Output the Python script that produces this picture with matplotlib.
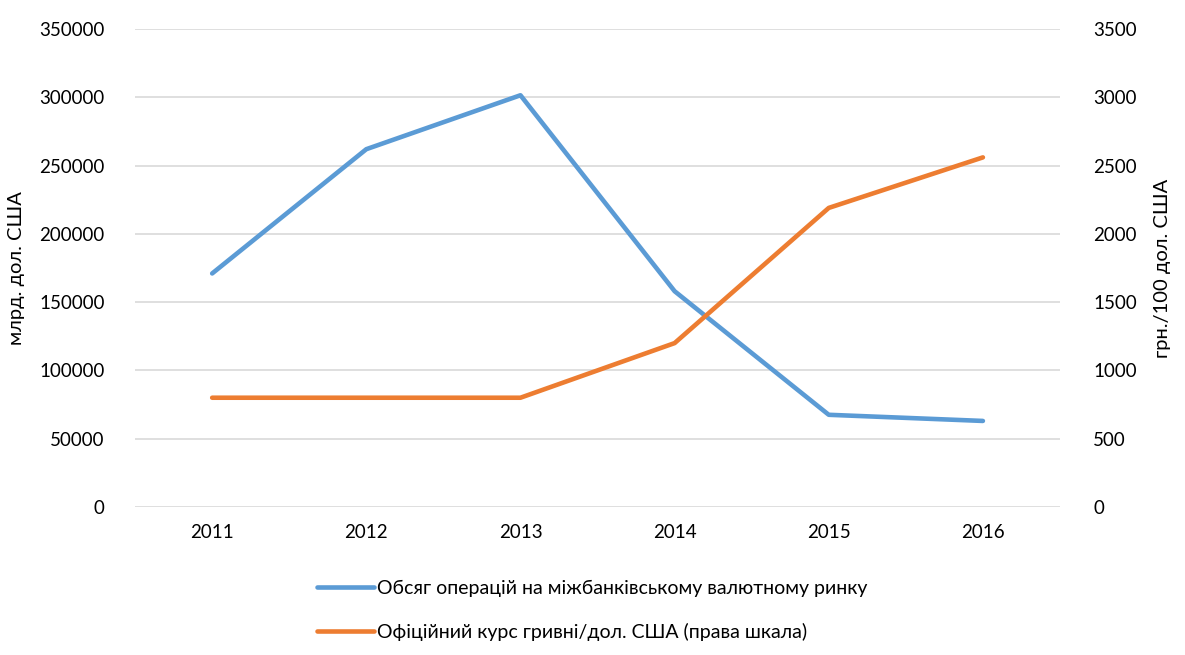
import matplotlib
matplotlib.use("Agg")
import matplotlib.pyplot as plt
from matplotlib.lines import Line2D

years = ["2011", "2012", "2013", "2014", "2015", "2016"]
volume = [171000, 262000, 301500, 158000, 67500, 63000]
rate = [800, 800, 800, 1200, 2190, 2560]
left_ticks = [0, 50000, 100000, 150000, 200000, 250000, 300000, 350000]
right_ticks = [0, 500, 1000, 1500, 2000, 2500, 3000, 3500]
name_volume = "Обсяг операцій на міжбанківському валютному ринку"
name_rate = "Офіційний курс гривні/дол. США (права шкала)"
ylabel_left = "млрд. дол. США"
ylabel_right = "грн./100 дол. США"

plt.rcParams['font.family'] = ['Lato', 'DejaVu Sans']

blue = "#5b9bd5"
orange = "#ed7d31"

fig = plt.figure(figsize=(11.85, 6.55), dpi=100)
ax = fig.add_axes([0.114, 0.226, 0.7805, 0.7297])
ax2 = ax.twinx()

x = list(range(len(years)))
ax.plot(x, volume, color=blue, lw=3.3, solid_capstyle='round', solid_joinstyle='round', zorder=3)
ax2.plot(x, rate, color=orange, lw=3.3, solid_capstyle='round', solid_joinstyle='round', zorder=3)

ax.set_xlim(-0.5, len(years) - 0.5)
ax.set_ylim(0, 350000)
ax2.set_ylim(0, 3500)
ax.set_yticks(left_ticks)
ax2.set_yticks(right_ticks)
ax.set_xticks(x)
ax.set_xticklabels(years)
ax.grid(axis='y', color='#d9d9d9', lw=1.2)
ax.set_axisbelow(True)
for a in (ax, ax2):
    for s in a.spines.values():
        s.set_visible(False)
    a.tick_params(length=0, labelsize=13.5, colors='#000000')
ax.tick_params(axis='y', pad=22)
ax2.tick_params(axis='y', pad=24)
ax.tick_params(axis='x', pad=12)

ax.set_ylabel(ylabel_left, fontsize=14.5, labelpad=10)
ax2.set_ylabel(ylabel_right, fontsize=14.5, labelpad=12)

handles = [Line2D([0], [0], color=blue, lw=3.3, solid_capstyle='round'),
           Line2D([0], [0], color=orange, lw=3.3, solid_capstyle='round')]
fig.legend(handles, [name_volume, name_rate], loc='center', bbox_to_anchor=(0.5, 0.068),
           ncol=1, frameon=False, fontsize=14, handlelength=2.9, handletextpad=0.2,
           labelspacing=1.35)

fig.savefig("out.png", dpi=100)
